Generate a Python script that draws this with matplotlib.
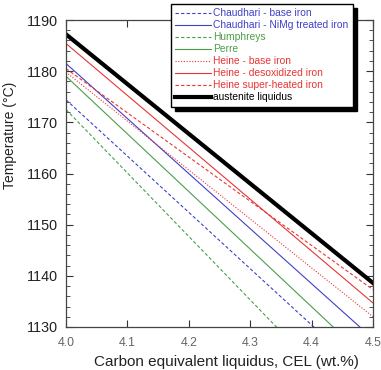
import numpy as np
import matplotlib
matplotlib.use("Agg")
import matplotlib.pyplot as plt
from matplotlib.ticker import MultipleLocator

plt.rcParams["font.family"] = ["Liberation Sans", "DejaVu Sans"]

# 数据：各直线在 CEL=4.0 和 4.5 处的温度
cel = [4.0, 4.5]
chaudhari_base = [1174.4, 1119.4]
chaudhari_nimg = [1181.5, 1127.7]
humphreys = [1172.5, 1110.5]
perre = [1179.0, 1122.7]
heine_base = [1179.8, 1132.0]
heine_desox = [1185.4, 1134.7]
heine_super = [1180.5, 1137.3]
austenite = [1187.2, 1138.6]

labels = ["Chaudhari - base iron", "Chaudhari - NiMg treated iron", "Humphreys",
          "Perre", "Heine - base iron", "Heine - desoxidized iron",
          "Heine super-heated iron", "austenite liquidus"]

blue = "#4040c8"
green = "#4a9e4a"
red = "#e83535"

fig = plt.figure(figsize=(3.81, 3.70), dpi=100)
ax = fig.add_axes([66 / 381, 43 / 370, 307 / 381, 307 / 370])

ax.plot(cel, chaudhari_base, color=blue, lw=0.8, ls=(0, (3, 2)), label=labels[0])
ax.plot(cel, chaudhari_nimg, color=blue, lw=0.8, label=labels[1])
ax.plot(cel, humphreys, color=green, lw=0.8, ls=(0, (3, 2)), label=labels[2])
ax.plot(cel, perre, color=green, lw=0.8, label=labels[3])
ax.plot(cel, heine_base, color=red, lw=0.8, ls=(0, (1, 1.5)), label=labels[4])
ax.plot(cel, heine_desox, color=red, lw=0.8, label=labels[5])
ax.plot(cel, heine_super, color=red, lw=0.8, ls=(0, (3, 2)), label=labels[6])
ax.plot(cel, austenite, color="black", lw=3, label=labels[7])

ax.set_xlim(4.0, 4.5)
ax.set_ylim(1130, 1190)
ax.xaxis.set_major_locator(MultipleLocator(0.1))
ax.yaxis.set_major_locator(MultipleLocator(10))
ax.yaxis.set_minor_locator(MultipleLocator(2))
ax.tick_params(which="both", direction="in", top=True, right=True, colors="#333333")
ax.tick_params(which="major", length=5)
ax.tick_params(axis="y", labelsize=10.4, labelcolor="#222222", pad=6)
ax.tick_params(axis="x", labelsize=8.8, labelcolor="#666666", pad=7)
ax.tick_params(which="minor", length=3)
ax.set_xticks([4.0, 4.1, 4.2, 4.3, 4.4, 4.5])
ax.set_xticklabels(["4.0", "4.1", "4.2", "4.3", "4.4", "4.5"])
for s in ax.spines.values():
    s.set_color("#444444")
    s.set_linewidth(0.9)

ax.set_xlabel("Carbon equivalent liquidus, CEL (wt.%)", fontsize=11, color="#222222")
ax.set_ylabel("Temperature (\u00b0C)", fontsize=10, color="#222222")
ax.xaxis.set_label_coords(0.523, -0.091)
ax.yaxis.set_label_coords(-0.158, 0.625)

leg = ax.legend(loc="upper left", bbox_to_anchor=(171 / 381, 1 - 4 / 370),
                bbox_transform=fig.transFigure, borderaxespad=0, fontsize=7.4,
                handlelength=3.5, handletextpad=0.2, labelspacing=0.2,
                borderpad=0.4, fancybox=False, framealpha=1,
                shadow={"color": "black", "alpha": 1, "ox": 3, "oy": -3})
leg.get_frame().set_edgecolor("black")
leg.get_frame().set_linewidth(1.0)
text_colors = [blue, blue, green, green, red, red, red, "black"]
for t, c in zip(leg.get_texts(), text_colors):
    t.set_color(c)

plt.savefig("out.png", dpi=100)
